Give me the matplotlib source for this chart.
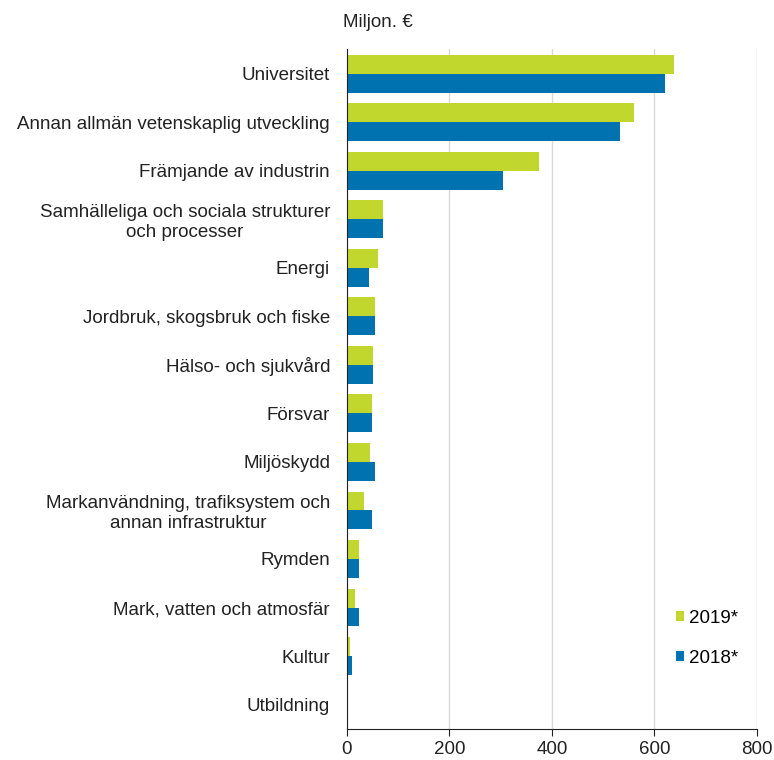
import numpy as np
import matplotlib.pyplot as plt
from matplotlib.patches import Patch

plt.rcParams['font.family'] = ['Liberation Sans', 'DejaVu Sans']

# Data (Miljon. €)
categories = [
    "Universitet",
    "Annan allmän vetenskaplig utveckling",
    "Främjande av industrin",
    "Samhälleliga och sociala strukturer\noch processer",
    "Energi",
    "Jordbruk, skogsbruk och fiske",
    "Hälso- och sjukvård",
    "Försvar",
    "Miljöskydd",
    "Markanvändning, trafiksystem och\nannan infrastruktur",
    "Rymden",
    "Mark, vatten och atmosfär",
    "Kultur",
    "Utbildning",
]
values_2019 = [638, 561, 374, 71, 61, 55, 52, 49, 45, 33, 24, 17, 7, 0]
values_2018 = [620, 533, 305, 71, 43, 55, 52, 49, 55, 49, 24, 24, 11, 0]
series_labels = ["2019*", "2018*"]
xticks = [0, 200, 400, 600, 800]

GREEN = '#C1D72E'
BLUE = '#0072B0'
FS = 13.5

fig = plt.figure(figsize=(7.74, 7.6), dpi=100)
ax = fig.add_axes([0.448, 0.041, 0.530, 0.894])

y = np.arange(len(categories))
h = 0.39
ax.barh(y - h / 2, values_2019, height=h, color=GREEN, zorder=3)
ax.barh(y + h / 2, values_2018, height=h, color=BLUE, zorder=3)

ax.set_ylim(len(categories) - 0.5, -0.5)
ax.set_yticks(y)
ax.set_yticklabels(categories, fontsize=FS, color='#222222', multialignment='center')
ax.tick_params(axis='y', length=0, pad=12)

ax.set_xlim(0, 800)
ax.set_xticks(xticks)
ax.tick_params(axis='x', labelsize=FS, length=5, direction='out', color='#222222', labelcolor='#222222')
ax.grid(axis='x', color='#D9D9D9', linewidth=1, zorder=0)

for s in ['top', 'right']:
    ax.spines[s].set_visible(False)
ax.spines['left'].set_color('#222222')
ax.spines['bottom'].set_color('#222222')
ax.spines['left'].set_zorder(4)

fig.text(0.443, 0.971, "Miljon. €", fontsize=FS, ha='left', va='center', color='#222222')

handles = [Patch(facecolor=GREEN, label=series_labels[0]),
           Patch(facecolor=BLUE, label=series_labels[1])]
ax.legend(handles=handles, loc='center left', bbox_to_anchor=(0.851, 0.16),
          bbox_transform=fig.transFigure, frameon=False, fontsize=FS,
          handlelength=0.45, handleheight=0.45, handletextpad=0.25, labelspacing=1.25)

fig.savefig('out.png', dpi=100)
